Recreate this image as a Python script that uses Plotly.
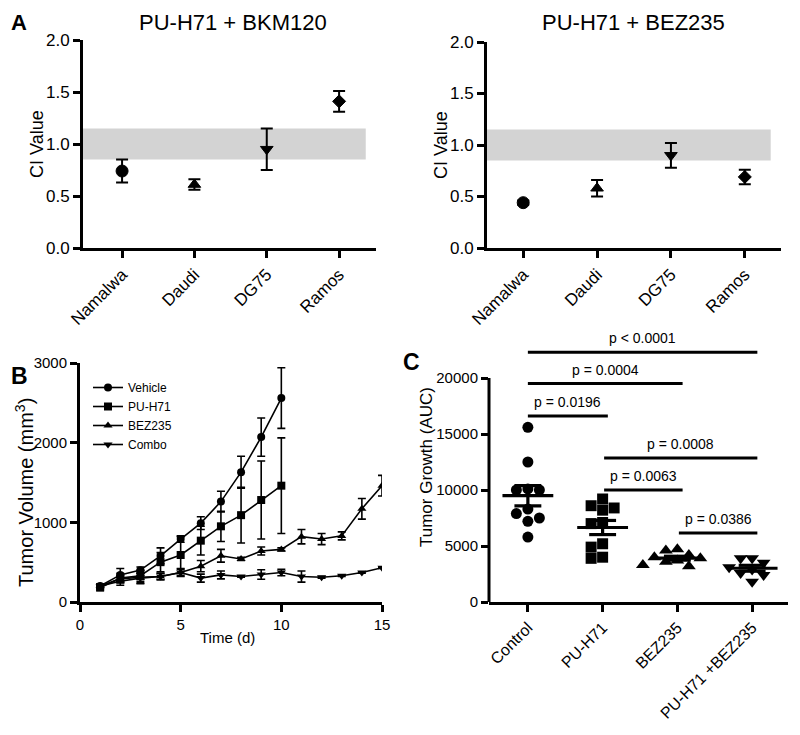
import numpy as np
import plotly.graph_objects as go

# page body has an 8px margin: map reference pixels onto a slightly smaller figure
OFF = 8
FW, FH = 800 - 2 * OFF, 735 - 2 * OFF
FONT = "Liberation Sans, Arial, Helvetica, sans-serif"

# ---------------- Panel A data ----------------
cell_lines = ["Namalwa", "Daudi", "DG75", "Ramos"]
ci_bkm120 = [0.74, 0.61, 0.95, 1.41]
ci_bkm120_err = [0.11, 0.05, 0.20, 0.10]
ci_bez235 = [0.44, 0.58, 0.90, 0.69]
ci_bez235_err = [0.02, 0.08, 0.12, 0.07]
additive_low, additive_high = 0.85, 1.15
a_titles = ["PU-H71 + BKM120", "PU-H71 + BEZ235"]

# ---------------- Panel B data ----------------
days_short = list(range(1, 11))
days_long = list(range(1, 16))
vehicle = [200, 340, 400, 580, 790, 990, 1260, 1630, 2070, 2560]
vehicle_err = [30, 80, 40, 100, 40, 80, 130, 200, 240, 380]
puh71 = [180, 300, 330, 500, 590, 770, 950, 1090, 1280, 1460]
puh71_err = [30, 60, 70, 120, 230, 180, 190, 350, 490, 600]
bez235 = [200, 260, 300, 320, 370, 450, 580, 540, 640, 660, 820, 790, 830, 1170, 1460]
bez235_err = [20, 50, 60, 40, 40, 70, 80, 20, 50, 20, 90, 70, 50, 130, 130]
combo = [200, 290, 310, 320, 370, 300, 340, 320, 345, 370, 320, 310, 330, 370, 430]
combo_err = [20, 40, 80, 40, 50, 50, 50, 10, 60, 40, 70, 10, 10, 10, 10]
b_series = ["Vehicle", "PU-H71", "BEZ235", "Combo"]

# ---------------- Panel C data ----------------
groups = ["Control", "PU-H71", "BEZ235", "PU-H71 +BEZ235"]
auc_control = [15600, 12500, 10100, 10000, 10000, 8300, 7900, 7500, 7200, 5800]
auc_puh71 = [9200, 8600, 8400, 8200, 7100, 7000, 5200, 4900, 4000, 3900]
auc_bez235 = [4700, 4600, 4200, 4000, 3900, 3700, 3600, 3300, 3200]
auc_combo = [3900, 3900, 3500, 3100, 2900, 2600, 2400, 1800]
comparisons = [
    (0, 3, "p < 0.0001", 22300),
    (0, 2, "p = 0.0004", 19500),
    (0, 1, "p = 0.0196", 16600),
    (1, 3, "p = 0.0008", 12850),
    (1, 2, "p = 0.0063", 10000),
    (2, 3, "p = 0.0386", 6150),
]


def px(x):
    return (x - OFF) / FW


def py(y):
    return 1 - (y - OFF) / FH


def axis_style(size, **kw):
    d = dict(showline=True, linewidth=3, linecolor="black", ticks="outside",
             ticklen=7, tickwidth=2.5, tickcolor="black", showgrid=False,
             zeroline=False, automargin=False,
             tickfont=dict(size=size, color="black", family=FONT))
    d.update(kw)
    return d


fig = go.Figure()

# ---------------- Panel A ----------------
a_symbols = ["circle", "triangle-up", "triangle-down", "diamond"]
a_sizes = [12, 11, 11, 10]
for k, (vals, errs) in enumerate([(ci_bkm120, ci_bkm120_err), (ci_bez235, ci_bez235_err)]):
    sfx = "" if k == 0 else "2"
    fig.add_trace(go.Scatter(
        x=list(range(len(cell_lines))), y=vals, mode="markers",
        marker=dict(symbol=a_symbols, size=a_sizes, color="black", opacity=1,
                    line=dict(width=1, color="black")),
        error_y=dict(type="data", array=errs, color="black", thickness=2, width=6),
        xaxis="x" + sfx, yaxis="y" + sfx, showlegend=False))

# ---------------- Panel B ----------------
b_data = [(days_short, vehicle, vehicle_err, "circle"),
          (days_short, puh71, puh71_err, "square"),
          (days_long, bez235, bez235_err, "triangle-up"),
          (days_long, combo, combo_err, "triangle-down")]
for name, (xs, ys, es, sym) in zip(b_series, b_data):
    fig.add_trace(go.Scatter(
        x=xs, y=ys, name=name, mode="lines+markers",
        line=dict(color="black", width=1.6),
        marker=dict(symbol=sym, size=8, color="black", line=dict(width=0)),
        error_y=dict(type="data", array=es, color="black", thickness=1.6, width=4),
        xaxis="x3", yaxis="y3"))

# ---------------- Panel C ----------------
c_dom_x = [px(489), px(788)]
c_range_x = [-0.52, 3.48]
c_dom_y = [py(602), py(344.4)]
c_range_y = [0, 23000]
px_per_xunit = (c_dom_x[1] - c_dom_x[0]) * FW / (c_range_x[1] - c_range_x[0])
px_per_yunit = (c_dom_y[1] - c_dom_y[0]) * FH / (c_range_y[1] - c_range_y[0])


def beeswarm(vals, diam=11.5):
    placed = []
    offs = []
    for v in vals:
        yv = v * px_per_yunit
        for k in range(0, 20):
            cand = 0 if k == 0 else ((k + 1) // 2) * diam * (-1 if k % 2 else 1)
            ok = all((cand - ox) ** 2 + (yv - oy) ** 2 >= (diam * 0.95) ** 2 for ox, oy in placed)
            if ok:
                break
        placed.append((cand, yv))
        offs.append(cand / px_per_xunit)
    return offs


c_sets = [auc_control, auc_puh71, auc_bez235, auc_combo]
c_symbols = ["circle", "square", "triangle-up", "triangle-down"]
c_sizes = [11, 11, 12, 12]
for i, vals in enumerate(c_sets):
    offs = beeswarm(vals)
    fig.add_trace(go.Scatter(
        x=[i + o for o in offs], y=vals, mode="markers",
        marker=dict(symbol=c_symbols[i], size=c_sizes[i], color="black", line=dict(width=0)),
        xaxis="x4", yaxis="y4", showlegend=False))
for i, vals in enumerate(c_sets):
    m = float(np.mean(vals))
    s = float(np.std(vals, ddof=1) / np.sqrt(len(vals)))
    xs = [i - 0.34, i + 0.34, None, i - 0.18, i + 0.18, None, i - 0.18, i + 0.18, None, i, i]
    ys = [m, m, None, m + s, m + s, None, m - s, m - s, None, m - s, m + s]
    fig.add_trace(go.Scatter(x=xs, y=ys, mode="lines", line=dict(color="black", width=3.2),
                             xaxis="x4", yaxis="y4", showlegend=False, hoverinfo="skip"))

shapes = []
annotations = []

# additive bands in panel A
for sfx in ["", "2"]:
    shapes.append(dict(type="rect", xref="x" + sfx + " domain", yref="y" + sfx,
                       x0=0, x1=0.965, y0=additive_low, y1=additive_high,
                       fillcolor="#d3d3d3", line=dict(width=0), layer="below"))

# significance bars in panel C
for a, b, txt, h in comparisons:
    x0 = a + (0.02 if a > 0 else 0)
    x1 = b + 0.07
    shapes.append(dict(type="line", xref="x4", yref="y4", x0=x0, x1=x1, y0=h, y1=h,
                       line=dict(color="black", width=3)))
    annotations.append(dict(xref="x4", yref="y4", x=(x0 + x1) / 2, y=h, yshift=14,
                            text=txt, showarrow=False,
                            font=dict(size=14, family=FONT, color="black")))

# panel C y axis line only up to 20000
shapes.append(dict(type="line", xref="x4 domain", yref="y4", x0=0, x1=0, y0=0, y1=20000,
                   line=dict(color="black", width=3)))


def ann(text, x, y, size, bold=False, angle=0, yanchor="middle"):
    annotations.append(dict(xref="paper", yref="paper", x=px(x), y=py(y),
                            text=(f"<b>{text}</b>" if bold else text),
                            showarrow=False, textangle=angle, xanchor="center", yanchor=yanchor,
                            font=dict(size=size, family=FONT, color="black")))


ann("A", 19, 8, 22, bold=True, yanchor="top")
ann("B", 19, 376, 23, bold=True)
ann("C", 411, 362, 23, bold=True)
ann(a_titles[0], 233, 8, 22, yanchor="top")
ann(a_titles[1], 633, 8, 22, yanchor="top")
ann("CI Value", 37, 144, 18, angle=-90)
ann("CI Value", 441, 145, 18, angle=-90)
ann("Tumor Volume (mm<sup>3</sup>)", 24, 493, 20, angle=-90)
ann("Time (d)", 228, 637, 15)
ann("Tumor Growth (AUC)", 426, 467, 17, angle=-90)

fig.update_layout(
    template="none",
    width=FW, height=FH, margin=dict(l=0, r=0, t=0, b=0, autoexpand=False),
    paper_bgcolor="white", plot_bgcolor="rgba(0,0,0,0)",
    font=dict(family=FONT, color="black"),
    xaxis=axis_style(17, domain=[px(83), px(376)], range=[-0.54, 3.51],
                     tickvals=list(range(len(cell_lines))), ticktext=cell_lines, tickangle=-45),
    yaxis=axis_style(17, domain=[py(248), py(40)], range=[0, 2.0], tickvals=[0, 0.5, 1.0, 1.5, 2.0],
                     tickformat=".1f", anchor="x"),
    xaxis2=axis_style(17, domain=[px(487), px(781)], range=[-0.49, 3.49], anchor="y2",
                      tickvals=list(range(len(cell_lines))), ticktext=cell_lines, tickangle=-45),
    yaxis2=axis_style(17, domain=[py(248), py(42)], range=[0, 2.0], tickvals=[0, 0.5, 1.0, 1.5, 2.0],
                      tickformat=".1f", anchor="x2"),
    xaxis3=axis_style(15, domain=[px(80), px(382)], range=[0, 15], anchor="y3",
                      tickvals=[0, 5, 10, 15]),
    yaxis3=axis_style(15, domain=[py(602), py(363)], range=[0, 3000], anchor="x3",
                      tickvals=[0, 1000, 2000, 3000], tickformat="d"),
    xaxis4=axis_style(16, domain=c_dom_x, range=c_range_x, anchor="y4",
                      tickvals=list(range(len(groups))), ticktext=groups, tickangle=-45),
    yaxis4=axis_style(15, domain=c_dom_y, range=c_range_y, anchor="x4", showline=False,
                      tickvals=[0, 5000, 10000, 15000, 20000], tickformat="d"),
    legend=dict(x=px(88), y=py(373), xanchor="left", yanchor="top",
                font=dict(size=12, family=FONT, color="black"), bgcolor="rgba(0,0,0,0)",
                tracegroupgap=0, itemwidth=30),
    shapes=shapes, annotations=annotations,
)

fig.write_html("out.html")
